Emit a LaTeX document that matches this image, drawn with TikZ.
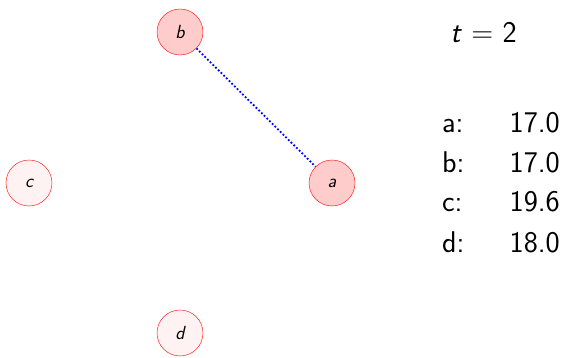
\documentclass[tikz,border=0pt]{standalone}
\usepackage{fontspec}
\renewcommand{\familydefault}{\sfdefault}
\begin{document}
\begin{tikzpicture}[x=1pt,y=-1pt,
  vtx/.style={circle,draw=red,minimum size=46pt,inner sep=0pt,font=\fontsize{19}{23}\selectfont\itshape},
  hot/.style={vtx,fill=red!20},
  cold/.style={vtx,fill=red!5},
  lbl/.style={font=\fontsize{30}{36}\selectfont,anchor=base west,inner sep=0pt},
  val/.style={font=\fontsize{30}{36}\selectfont,anchor=base east,inner sep=0pt}]
\useasboundingbox (0,0) rectangle (565,358);
\node[hot] (b) at (180,32) {b};
\node[hot] (a) at (332,183) {a};
\node[cold] (c) at (29,183) {c};
\node[cold] (d) at (180,333) {d};
\draw[blue,dotted,line width=1.8pt] (b) -- (a);
\node[font=\fontsize{30}{36}\selectfont,anchor=base,inner sep=0pt] (t) at (483.5,43) {\textit{t} = 2};
\node[lbl] (la) at (442,133) {a:};
\node[val] (va) at (560,133) {17.0};
\node[lbl] (lb) at (442,172.5) {b:};
\node[val] (vb) at (560,172.5) {17.0};
\node[lbl] (lc) at (442,212) {c:};
\node[val] (vc) at (560,212) {19.6};
\node[lbl] (ld) at (442,252) {d:};
\node[val] (vd) at (560,252) {18.0};
\end{tikzpicture}
\end{document}
